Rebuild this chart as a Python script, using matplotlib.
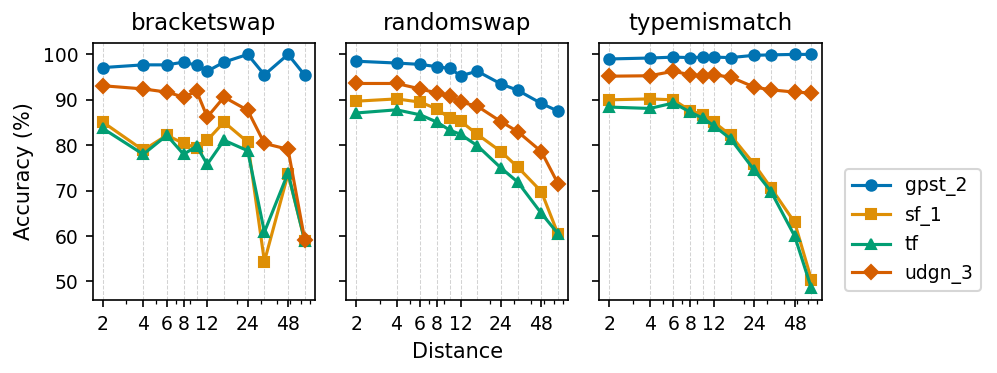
import matplotlib
matplotlib.use('Agg')
import matplotlib.pyplot as plt
import seaborn as sns

# Data
distances = [2, 4, 6, 8, 10, 12, 16, 24, 32, 48, 64]
tasks = ['bracketswap', 'randomswap', 'typemismatch']
models = ['gpst_2', 'sf_1', 'tf', 'udgn_3']

bracketswap = {
    'gpst_2': [97.1, 97.7, 97.7, 98.3, 97.6, 96.3, 98.3, 100.0, 95.5, 100.0, 95.4],
    'sf_1':   [85.1, 78.9, 82.2, 80.4, 79.4, 81.1, 85.1, 80.7, 54.4, 73.7, 58.9],
    'tf':     [83.7, 78.0, 82.2, 78.0, 79.8, 75.8, 81.1, 78.8, 60.9, 73.9, 58.9],
    'udgn_3': [93.1, 92.4, 91.7, 90.6, 91.9, 86.2, 90.6, 87.7, 80.4, 79.1, 59.1],
}
randomswap = {
    'gpst_2': [98.5, 98.1, 97.8, 97.3, 96.9, 95.3, 96.3, 93.5, 92.1, 89.2, 87.5],
    'sf_1':   [89.7, 90.2, 89.5, 88.0, 85.9, 85.3, 82.4, 78.6, 75.2, 69.8, 60.4],
    'tf':     [87.1, 87.8, 86.7, 85.1, 83.3, 82.4, 79.9, 75.0, 71.9, 65.0, 60.5],
    'udgn_3': [93.6, 93.6, 92.4, 91.5, 90.8, 89.5, 88.6, 85.2, 83.0, 78.6, 71.5],
}
typemismatch = {
    'gpst_2': [99.0, 99.2, 99.4, 99.3, 99.4, 99.4, 99.3, 99.8, 99.9, 100.0, 100.0],
    'sf_1':   [90.0, 90.2, 90.0, 87.6, 86.7, 85.1, 82.2, 75.8, 70.6, 63.0, 50.4],
    'tf':     [88.4, 88.1, 89.3, 87.3, 85.9, 84.3, 81.4, 74.5, 69.8, 60.0, 48.5],
    'udgn_3': [95.2, 95.3, 96.3, 95.5, 95.2, 95.5, 95.0, 92.8, 92.2, 91.7, 91.5],
}
results = [bracketswap, randomswap, typemismatch]

major_ticks = [2, 4, 6, 8, 12, 24, 48]
colors = sns.color_palette('colorblind')
markers = {'gpst_2': 'o', 'sf_1': 's', 'tf': '^', 'udgn_3': 'D'}
mcolors = {'gpst_2': colors[0], 'sf_1': colors[1], 'tf': colors[2], 'udgn_3': colors[3]}

fig, axes = plt.subplots(1, 3, sharey=True, figsize=(997/150, 373/150), dpi=150)
fig.subplots_adjust(left=0.093, right=0.824, top=0.8855, bottom=0.1957, wspace=0.14)

for ax, task, res in zip(axes, tasks, results):
    # dashed guide at every measured distance
    for d in distances:
        ax.axvline(d, color='lightgray', ls='--', lw=0.5, zorder=0)
    for m in models:
        ax.plot(distances, res[m], marker=markers[m], color=mcolors[m],
                lw=1.5, ms=5 if m != 'udgn_3' else 4.5, label=m)
    ax.set_xscale('log')
    ax.set_xticks(major_ticks)
    ax.set_xticklabels([str(t) for t in major_ticks])
    ax.tick_params(axis='x', which='minor', labelbottom=False)
    ax.tick_params(labelsize=9)
    ax.set_title(task, fontsize=11)

axes[0].set_ylabel('Accuracy (%)', fontsize=10)
axes[0].set_yticks([50, 60, 70, 80, 90, 100])
axes[1].set_xlabel('Distance', fontsize=10)

handles, labels = axes[0].get_legend_handles_labels()
fig.legend(handles, labels, loc='center left', bbox_to_anchor=(0.838, 1 - 230/373),
           fontsize=9)

fig.savefig('out.png', dpi=150)
